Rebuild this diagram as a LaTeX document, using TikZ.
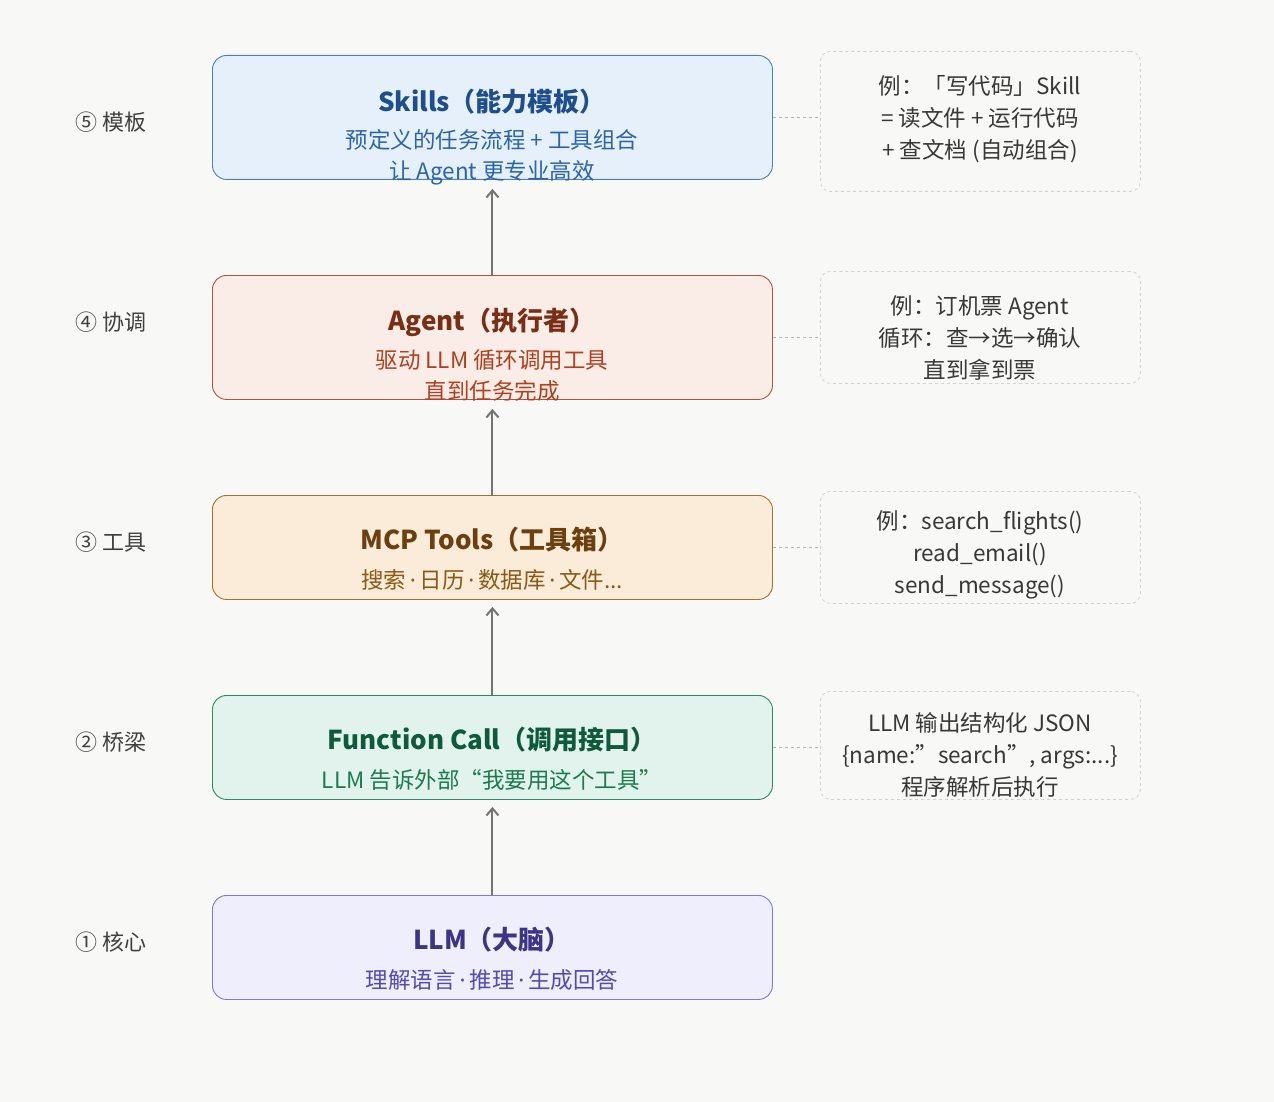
\documentclass[tikz,border=0pt]{standalone}
\usepackage{fontspec}
\setmainfont{Noto Sans CJK SC}
\newfontfamily\lat{Noto Sans}
\newcommand{\md}{{\lat\,·\,}}
\usetikzlibrary{arrows.meta}
\definecolor{bg}{HTML}{F8F8F6}
\definecolor{sD}{HTML}{4A7FC1}\definecolor{sF}{HTML}{E6F0FB}\definecolor{sT}{HTML}{1F4E8C}\definecolor{sS}{HTML}{2A64B0}
\definecolor{aD}{HTML}{B5533A}\definecolor{aF}{HTML}{FAECE7}\definecolor{aT}{HTML}{7A2E14}\definecolor{aS}{HTML}{B0401E}
\definecolor{mD}{HTML}{A8702A}\definecolor{mF}{HTML}{FBEBD9}\definecolor{mT}{HTML}{6B3F0F}\definecolor{mS}{HTML}{8A5A14}
\definecolor{fD}{HTML}{2E8A66}\definecolor{fF}{HTML}{E1F3EC}\definecolor{fT}{HTML}{0E5A3C}\definecolor{fS}{HTML}{1A7A50}
\definecolor{lD}{HTML}{7F77DD}\definecolor{lF}{HTML}{EEEEFC}\definecolor{lT}{HTML}{3C3489}\definecolor{lS}{HTML}{534AB7}
\tikzset{
 box/.style={draw,rounded corners=14pt,line width=0.9pt,minimum width=560pt,anchor=north west,inner sep=0pt},
 note/.style={draw=black!18,dashed,rounded corners=10pt,line width=0.8pt,minimum width=320pt,anchor=north west,inner sep=0pt},
 ttl/.style={font=\fontsize{26}{30}\selectfont\bfseries},
 sub/.style={font=\fontsize{22.5}{31}\selectfont,align=center},
 ntxt/.style={font=\fontsize{22.5}{32}\selectfont,align=center,text=black!78},
 lab/.style={font=\fontsize{22}{26}\selectfont,text=black!75,anchor=west},
 arr/.style={-{Straight Barb[length=7pt,width=12pt]},line width=2pt,draw=black!55},
 lnk/.style={dashed,draw=black!30,line width=0.9pt}
}
\begin{document}
\begin{tikzpicture}[x=1pt,y=-1pt]
\fill[bg] (0,0) rectangle (1274,1102);
\useasboundingbox (0,0) rectangle (1274,1102);
% boxes
\node[box,draw=sD,fill=sF,minimum height=124pt] (s) at (212,55) {};
\node[box,draw=aD,fill=aF,minimum height=124pt] (a) at (212,275) {};
\node[box,draw=mD,fill=mF,minimum height=104pt] (m) at (212,495) {};
\node[box,draw=fD,fill=fF,minimum height=104pt] (f) at (212,695) {};
\node[box,draw=lD,fill=lF,minimum height=104pt] (l) at (212,895) {};
% texts
\node[ttl,text=sT] (st) at (492,102) {Skills（能力模板）};
\node[sub,text=sS,anchor=north] (ss) at (492,126) {预定义的任务流程 + 工具组合\\让 Agent 更专业高效};
\node[ttl,text=aT] (at) at (492,322) {Agent（执行者）};
\node[sub,text=aS,anchor=north] (as) at (492,346) {驱动 LLM 循环调用工具\\直到任务完成};
\node[ttl,text=mT] (mt) at (492,540) {MCP Tools（工具箱）};
\node[sub,text=mS] (ms) at (492,580) {搜索\md 日历\md 数据库\md 文件...};
\node[ttl,text=fT] (ft) at (492,740) {Function Call（调用接口）};
\node[sub,text=fS] (fs) at (492,780) {LLM 告诉外部“我要用这个工具”};
\node[ttl,text=lT] (lt) at (492,940) {LLM（大脑）};
\node[sub,text=lS] (ls) at (492,980) {理解语言\md 推理\md 生成回答};
% left labels
\node[lab] (l5) at (72,122) {⑤ 模板};
\node[lab] (l4) at (72,322) {④ 协调};
\node[lab] (l3) at (72,542) {③ 工具};
\node[lab] (l2) at (72,742) {② 桥梁};
\node[lab] (l1) at (72,942) {① 核心};
% notes
\node[note,minimum height=140pt] (n5) at (820,51) {};
\node[note,minimum height=112pt] (n4) at (820,271) {};
\node[note,minimum height=112pt] (n3) at (820,491) {};
\node[note,minimum height=108pt] (n2) at (820,691) {};
\node[ntxt] (t5) at (980,119) {例：「写代码」Skill\\= 读文件 + 运行代码\\+ 查文档 (自动组合)};
\node[ntxt] (t4) at (980,338) {例：订机票 Agent\\循环：查→选→确认\\直到拿到票};
\node[ntxt] (t3) at (980,555) {例：search\_flights()\\read\_email()\\send\_message()};
\node[ntxt] (t2) at (980,755) {LLM 输出结构化 JSON\\\{name:”search”, args:...\}\\程序解析后执行};
% links
\draw[lnk] (s.east) -- (n5.west|-s.east);
\draw[lnk] (a.east) -- (n4.west|-a.east);
\draw[lnk] (m.east) -- (n3.west|-m.east);
\draw[lnk] (f.east) -- (n2.west|-f.east);
% arrows
\draw[arr] (l.north) -- ([yshift=-7pt]f.south);
\draw[arr] (f.north) -- ([yshift=-7pt]m.south);
\draw[arr] (m.north) -- ([yshift=-9pt]a.south);
\draw[arr] (a.north) -- ([yshift=-9pt]s.south);
\end{tikzpicture}
\end{document}
